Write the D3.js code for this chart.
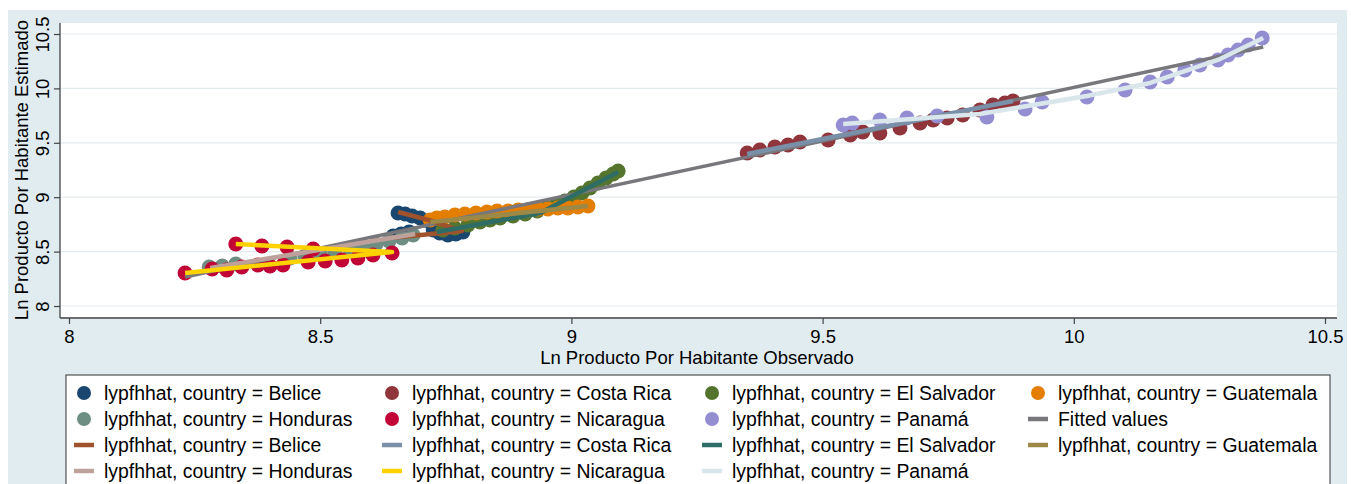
<!DOCTYPE html>
<html>
<head>
<meta charset="utf-8">
<script src="https://cdn.jsdelivr.net/npm/d3@7"></script>
<style>
  body { margin: 0; background: #fff; }
  text { font-family: "Liberation Sans", Arial, sans-serif; fill: #000; }
</style>
</head>
<body>
<svg id="chart"></svg>
<script>
// ---- data (observed ln GDP pc, estimated ln GDP pc) ----
const countries = ["Belice", "Costa Rica", "El Salvador", "Guatemala", "Honduras", "Nicaragua", "Panamá"];

const belicePts = [[8.655, 8.855], [8.669, 8.846], [8.683, 8.827], [8.699, 8.809], [8.715, 8.781],
  [8.725, 8.699], [8.738, 8.671], [8.754, 8.653], [8.770, 8.662], [8.784, 8.680],
  [8.645, 8.643], [8.661, 8.662], [8.677, 8.680]];
const costaRicaPts = [[9.350, 9.406], [9.375, 9.434], [9.405, 9.461], [9.431, 9.480], [9.455, 9.507],
  [9.511, 9.526], [9.555, 9.572], [9.580, 9.599], [9.614, 9.590], [9.654, 9.636], [9.694, 9.682],
  [9.720, 9.710], [9.748, 9.728], [9.779, 9.756], [9.813, 9.801], [9.839, 9.847], [9.863, 9.866],
  [9.879, 9.884]];
const elSalvadorPts = [[8.744, 8.699], [8.768, 8.717], [8.794, 8.744], [8.818, 8.772], [8.838, 8.790],
  [8.858, 8.809], [8.884, 8.827], [8.908, 8.846], [8.932, 8.873], [8.951, 8.901], [8.969, 8.928],
  [8.987, 8.965], [9.005, 9.002], [9.021, 9.039], [9.037, 9.085], [9.053, 9.131], [9.069, 9.176],
  [9.083, 9.213], [9.093, 9.241]];
const guatemalaPts = [[8.719, 8.790], [8.732, 8.809], [8.748, 8.818], [8.768, 8.836], [8.788, 8.846],
  [8.810, 8.855], [8.832, 8.864], [8.852, 8.873], [8.874, 8.873], [8.894, 8.882], [8.914, 8.882],
  [8.934, 8.892], [8.953, 8.892], [8.973, 8.901], [8.993, 8.901], [9.013, 8.910], [9.033, 8.919]];
const hondurasPts = [[8.279, 8.358], [8.305, 8.368], [8.332, 8.386], [8.440, 8.441], [8.470, 8.460],
  [8.500, 8.478], [8.529, 8.496], [8.559, 8.524], [8.585, 8.542], [8.611, 8.570], [8.637, 8.597],
  [8.663, 8.625], [8.685, 8.653]];
const nicaraguaPts = [[8.231, 8.303], [8.285, 8.340], [8.314, 8.331], [8.344, 8.358], [8.376, 8.377],
  [8.400, 8.368], [8.426, 8.377], [8.476, 8.404], [8.510, 8.414], [8.543, 8.423], [8.575, 8.441],
  [8.605, 8.469], [8.643, 8.487], [8.332, 8.570], [8.384, 8.551], [8.434, 8.542], [8.486, 8.524]];
const panamaPts = [[9.541, 9.664], [9.559, 9.682], [9.614, 9.710], [9.668, 9.728], [9.728, 9.746],
  [9.827, 9.737], [9.903, 9.811], [9.937, 9.875], [10.026, 9.921], [10.102, 9.985], [10.152, 10.059],
  [10.186, 10.105], [10.221, 10.169], [10.251, 10.215], [10.287, 10.261], [10.307, 10.307],
  [10.327, 10.353], [10.347, 10.399], [10.375, 10.463]];

// connected lypfhhat lines, one per country
const beliceLine = [[8.655, 8.864], [8.723, 8.781], [8.782, 8.689], [8.639, 8.625]];
const costaRicaLine = [[9.350, 9.397], [9.879, 9.884]];
const elSalvadorLine = [[8.732, 8.680], [8.938, 8.855], [9.093, 9.232]];
const guatemalaLine = [[8.719, 8.772], [9.033, 8.919]];
const hondurasLine = [[8.281, 8.349], [8.689, 8.662]];
const nicaraguaLine = [[8.332, 8.570], [8.643, 8.496], [8.231, 8.303]];
const panamaLine = [[9.541, 9.673], [9.813, 9.765], [10.026, 9.930], [10.152, 10.050], [10.291, 10.270], [10.377, 10.463]];

const fittedLine = [[8.231, 8.267], [10.377, 10.381]];

const xTicks = [8, 8.5, 9, 9.5, 10, 10.5];
const yTicks = [8, 8.5, 9, 9.5, 10, 10.5];
const xTitle = "Ln Producto Por Habitante Observado";
const yTitle = "Ln Producto Por Habitante Estimado";

// ---- styles ----
const markerColors = ["#1a476f", "#90353b", "#55752f", "#e37e00", "#6e8e84", "#c10534", "#938dd2"];
const lineColors = ["#a0522d", "#7a8fa8", "#2d6d66", "#9c8847", "#bfa19c", "#ffd200", "#d9e6eb"];
const fittedColor = "#77777c";

const ptsList = [belicePts, costaRicaPts, elSalvadorPts, guatemalaPts, hondurasPts, nicaraguaPts, panamaPts];
const lineList = [beliceLine, costaRicaLine, elSalvadorLine, guatemalaLine, hondurasLine, nicaraguaLine, panamaLine];

const W = 1351, H = 484;
const region = { left: 60, top: 23, right: 1337, bottom: 317 };

const svg = d3.select("#chart").attr("width", W).attr("height", H);

// graph region background
svg.append("rect").attr("x", 8).attr("y", 10).attr("width", 1339).attr("height", H - 10).attr("fill", "#e1ecf1");
// plot region
svg.append("rect")
  .attr("x", region.left).attr("y", region.top)
  .attr("width", region.right - region.left).attr("height", region.bottom - region.top)
  .attr("fill", "#fff");

const x = d3.scaleLinear().domain([8, 10.5]).range([69, 1325]);
const y = d3.scaleLinear().domain([8, 10.5]).range([306, 34]);

// gridlines
svg.append("g").selectAll("line").data(yTicks).join("line")
  .attr("x1", region.left).attr("x2", region.right)
  .attr("y1", d => y(d)).attr("y2", d => y(d))
  .attr("stroke", "#e4ecf0").attr("stroke-width", 1.2);

// axes
const fmt = d => String(d);
const xAxis = svg.append("g").attr("transform", `translate(0,${region.bottom + 1})`)
  .call(d3.axisBottom(x).tickValues(xTicks).tickFormat(fmt).tickSize(6).tickSizeOuter(0));
xAxis.select(".domain").remove();
xAxis.selectAll(".tick line").attr("stroke", "#444").attr("stroke-width", 1.2);
xAxis.selectAll(".tick text").attr("y", 12).attr("dy", "0.71em").style("font-size", "18.5px");

const yAxis = svg.append("g").attr("transform", `translate(${region.left},0)`)
  .call(d3.axisLeft(y).tickValues(yTicks).tickFormat(fmt).tickSize(6).tickSizeOuter(0));
yAxis.select(".domain").remove();
yAxis.selectAll(".tick line").attr("stroke", "#444").attr("stroke-width", 1.2);
yAxis.selectAll(".tick text")
  .attr("x", 0).attr("y", -11).attr("dy", 0)
  .attr("transform", "rotate(-90)")
  .attr("text-anchor", "middle")
  .style("font-size", "18.5px");

svg.append("line").attr("x1", region.left).attr("x2", region.right)
  .attr("y1", region.bottom + 1).attr("y2", region.bottom + 1).attr("stroke", "#444").attr("stroke-width", 1.3);
svg.append("line").attr("x1", region.left).attr("x2", region.left)
  .attr("y1", region.top).attr("y2", region.bottom + 1).attr("stroke", "#444").attr("stroke-width", 1.3);

svg.append("text").attr("x", 697).attr("y", 364).attr("text-anchor", "middle")
  .style("font-size", "18.5px").text(xTitle);
svg.append("text").attr("transform", `translate(28,${(region.top + region.bottom) / 2}) rotate(-90)`)
  .attr("text-anchor", "middle").style("font-size", "18.5px").text(yTitle);

// scatter markers
const R = 7.5;
ptsList.forEach((pts, i) => {
  svg.append("g").selectAll("circle").data(pts).join("circle")
    .attr("cx", d => x(d[0])).attr("cy", d => y(d[1])).attr("r", R)
    .attr("fill", markerColors[i]);
});

const lineGen = d3.line().x(d => x(d[0])).y(d => y(d[1]));

svg.append("path").datum(fittedLine).attr("d", lineGen)
  .attr("fill", "none").attr("stroke", fittedColor).attr("stroke-width", 3.5);

lineList.forEach((ln, i) => {
  svg.append("path").datum(ln).attr("d", lineGen)
    .attr("fill", "none").attr("stroke", lineColors[i]).attr("stroke-width", 4.5)
    .attr("stroke-linejoin", "round");
});

// legend
const legendItems = [];
countries.forEach((c, i) => legendItems.push({ type: "marker", color: markerColors[i], label: `lypfhhat, country = ${c}` }));
legendItems.push({ type: "line", color: fittedColor, label: "Fitted values" });
countries.forEach((c, i) => legendItems.push({ type: "line", color: lineColors[i], label: `lypfhhat, country = ${c}` }));

const legX = [84, 392, 712, 1038];
const legY0 = 393, legDy = 26;

svg.append("rect").attr("x", 66).attr("y", 375).attr("width", 1264).attr("height", 130)
  .attr("fill", "#fff").attr("stroke", "#333").attr("stroke-width", 1);

const leg = svg.append("g").selectAll("g").data(legendItems).join("g")
  .attr("transform", (d, i) => `translate(${legX[i % 4]},${legY0 + Math.floor(i / 4) * legDy})`);
leg.filter(d => d.type === "marker").append("circle").attr("r", 7).attr("fill", d => d.color);
leg.filter(d => d.type === "line").append("line").attr("x1", -10).attr("x2", 10)
  .attr("stroke", d => d.color).attr("stroke-width", 4.5);
leg.append("text").attr("x", 20).attr("dy", "0.36em").style("font-size", "19.4px").text(d => d.label);
</script>
</body>
</html>
